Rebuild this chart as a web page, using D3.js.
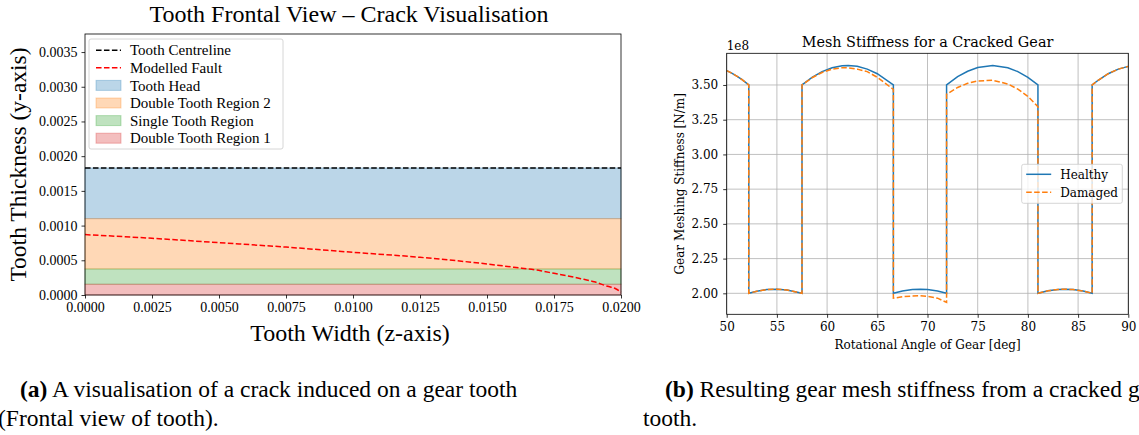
<!DOCTYPE html>
<html>
<head>
<meta charset="utf-8">
<script src="https://cdn.jsdelivr.net/npm/d3@7"></script>
<style>
  body { margin: 0; background: #fff; }
  svg { display: block; }
</style>
</head>
<body>
<svg id="fig" width="1139" height="435"></svg>
<script>
// ---- left panel data (tooth frontal view) ----
var faultZ = [0, 0.0025, 0.005, 0.0075, 0.01, 0.0125, 0.015, 0.016, 0.017, 0.0175, 0.018, 0.0185, 0.019, 0.0195, 0.0198, 0.02];
var faultY = [0.00087, 0.000817, 0.000754, 0.00069, 0.000615, 0.000543, 0.000447, 0.0004, 0.00035, 0.000312, 0.000275, 0.000235, 0.00019, 0.000125, 0.00009, 0.00004];
var centreline = 0.00183;
var bandNames = ["Tooth Head", "Double Tooth Region 2", "Single Tooth Region", "Double Tooth Region 1"];
var bandLow = [0.00110, 0.000375, 0.000155, 0];
var bandHigh = [0.00183, 0.00110, 0.000375, 0.000155];
var bandColors = ["#1f77b4", "#ff7f0e", "#2ca02c", "#d62728"];
var leftXTicks = [0, 0.0025, 0.005, 0.0075, 0.01, 0.0125, 0.015, 0.0175, 0.02];
var leftYTicks = [0, 0.0005, 0.001, 0.0015, 0.002, 0.0025, 0.003, 0.0035];

// ---- right panel data (mesh stiffness, x1e8 N/m) ----
var angle = [50, 50.5, 51, 51.5, 52.2,
  52.2, 53, 54, 55, 56, 57.5,
  57.5, 58.5, 59.5, 60.5, 61.5, 62.1, 63, 64, 65, 66.6,
  66.6, 67.5, 68.5, 69.3, 70, 71, 71.9,
  71.9, 73, 74, 75, 76.5, 78, 79, 80, 81,
  81, 82, 83, 83.7, 84.5, 85.5, 86.4,
  86.4, 87, 88, 89, 90];
var healthy = [3.603, 3.585, 3.564, 3.540, 3.500,
  2.000, 2.015, 2.027, 2.030, 2.024, 2.000,
  3.500, 3.555, 3.596, 3.624, 3.638, 3.640, 3.634, 3.614, 3.581, 3.500,
  2.000, 2.017, 2.028, 2.030, 2.028, 2.017, 2.000,
  3.500, 3.560, 3.599, 3.626, 3.640, 3.624, 3.596, 3.555, 3.500,
  2.000, 2.018, 2.028, 2.030, 2.027, 2.017, 2.000,
  3.500, 3.534, 3.581, 3.614, 3.634];
var damaged = [3.603, 3.585, 3.564, 3.540, 3.500,
  2.000, 2.015, 2.027, 2.030, 2.024, 2.000,
  3.500, 3.552, 3.590, 3.614, 3.624, 3.623, 3.614, 3.596, 3.555, 3.468,
  1.965, 1.975, 1.981, 1.982, 1.978, 1.965, 1.935,
  3.433, 3.482, 3.512, 3.529, 3.534, 3.507, 3.470, 3.418, 3.344,
  2.000, 2.018, 2.028, 2.030, 2.027, 2.017, 2.000,
  3.500, 3.534, 3.581, 3.614, 3.634];
var rightXTicks = [50, 55, 60, 65, 70, 75, 80, 85, 90];
var rightYTicks = [2.00, 2.25, 2.50, 2.75, 3.00, 3.25, 3.50];

var fig = d3.select("#fig");
var serifL = "'Liberation Serif', 'Times New Roman', serif";
var serifR = "'DejaVu Serif', serif";
var dash = "5.55,2.4";

// ================= left panel =================
var L = { x0: 85, x1: 621, y0: 34, y1: 295 };
var xL = d3.scaleLinear().domain([0, 0.02]).range([L.x0, L.x1]);
var yL = d3.scaleLinear().domain([0, 0.00376]).range([L.y1, L.y0]);
var gL = fig.append("g");

gL.selectAll("rect.band")
  .data(bandNames)
  .enter().append("rect")
  .attr("class", "band")
  .attr("x", xL(0))
  .attr("width", xL(0.02) - xL(0))
  .attr("y", function(d, i) { return yL(bandHigh[i]); })
  .attr("height", function(d, i) { return yL(bandLow[i]) - yL(bandHigh[i]); })
  .attr("fill", function(d, i) { return bandColors[i]; })
  .attr("fill-opacity", 0.3)
  .attr("stroke", function(d, i) { return bandColors[i]; })
  .attr("stroke-opacity", 0.3)
  .attr("stroke-width", 1);

gL.append("line")
  .attr("x1", xL(0)).attr("x2", xL(0.02))
  .attr("y1", yL(centreline)).attr("y2", yL(centreline))
  .attr("stroke", "#000").attr("stroke-width", 1.5)
  .attr("stroke-dasharray", dash);

var faultLine = d3.line()
  .x(function(d, i) { return xL(faultZ[i]); })
  .y(function(d) { return yL(d); })
  .curve(d3.curveMonotoneX);
gL.append("path")
  .attr("d", faultLine(faultY))
  .attr("fill", "none").attr("stroke", "#ff0000").attr("stroke-width", 1.5)
  .attr("stroke-dasharray", dash);

// axes
var axL_x = gL.append("g").attr("transform", "translate(0," + L.y1 + ")")
  .call(d3.axisBottom(xL).tickValues(leftXTicks).tickFormat(d3.format(".4f")).tickSize(3.5).tickPadding(4));
var axL_y = gL.append("g").attr("transform", "translate(" + L.x0 + ",0)")
  .call(d3.axisLeft(yL).tickValues(leftYTicks).tickFormat(d3.format(".4f")).tickSize(3.5).tickPadding(4));
[axL_x, axL_y].forEach(function(a) {
  a.select(".domain").remove();
  a.selectAll("line").attr("stroke", "#000").attr("stroke-width", 0.8);
  a.selectAll("text").attr("fill", "#000").style("font-family", serifL).style("font-size", "14px");
});
gL.append("rect")
  .attr("x", L.x0).attr("y", L.y0)
  .attr("width", L.x1 - L.x0).attr("height", L.y1 - L.y0)
  .attr("fill", "none").attr("stroke", "#000").attr("stroke-width", 0.8);

gL.append("text")
  .attr("x", 349).attr("y", 22)
  .attr("text-anchor", "middle")
  .style("font-family", serifL).style("font-size", "24px")
  .text("Tooth Frontal View \u2013 Crack Visualisation");
gL.append("text")
  .attr("x", 350).attr("y", 341)
  .attr("text-anchor", "middle")
  .style("font-family", serifL).style("font-size", "24px")
  .text("Tooth Width (z-axis)");
gL.append("text")
  .attr("transform", "translate(26," + (L.y0 + L.y1) / 2 + ") rotate(-90)")
  .attr("text-anchor", "middle")
  .style("font-family", serifL).style("font-size", "23.5px")
  .text("Tooth Thickness (y-axis)");

// legend
var legL = gL.append("g").attr("transform", "translate(89,39)");
legL.append("rect")
  .attr("width", 194).attr("height", 110).attr("rx", 2)
  .attr("fill", "#fff").attr("fill-opacity", 0.8)
  .attr("stroke", "#ccc").attr("stroke-width", 0.8);
var legItems = [
  { label: "Tooth Centreline", kind: "line", color: "#000" },
  { label: "Modelled Fault", kind: "line", color: "#ff0000" }
];
bandNames.forEach(function(n, i) { legItems.push({ label: n, kind: "patch", color: bandColors[i] }); });
var li = legL.selectAll("g.item").data(legItems).enter().append("g")
  .attr("class", "item")
  .attr("transform", function(d, i) { return "translate(0," + (11.2 + i * 17.6) + ")"; });
li.filter(function(d) { return d.kind === "line"; }).append("line")
  .attr("x1", 7).attr("x2", 32).attr("y1", 0).attr("y2", 0)
  .attr("stroke", function(d) { return d.color; }).attr("stroke-width", 1.5)
  .attr("stroke-dasharray", dash);
li.filter(function(d) { return d.kind === "patch"; }).append("rect")
  .attr("x", 7).attr("y", -5).attr("width", 25).attr("height", 10)
  .attr("fill", function(d) { return d.color; }).attr("fill-opacity", 0.3)
  .attr("stroke", function(d) { return d.color; }).attr("stroke-opacity", 0.3);
li.append("text")
  .attr("x", 41).attr("y", 0).attr("dy", "0.35em")
  .style("font-family", serifL).style("font-size", "15px")
  .text(function(d) { return d.label; });

// ================= right panel =================
var R = { x0: 726.7, x1: 1128.3, y0: 53.3, y1: 314.3 };
var xR = d3.scaleLinear().domain([50, 90]).range([R.x0, R.x1]);
var yR = d3.scaleLinear().domain([1.849, 3.728]).range([R.y1, R.y0]);
var gR = fig.append("g");

fig.append("defs").append("clipPath").attr("id", "clipR")
  .append("rect").attr("x", R.x0).attr("y", R.y0)
  .attr("width", R.x1 - R.x0).attr("height", R.y1 - R.y0);

gR.selectAll("line.gx").data(rightXTicks).enter().append("line")
  .attr("x1", function(d) { return xR(d); }).attr("x2", function(d) { return xR(d); })
  .attr("y1", R.y0).attr("y2", R.y1)
  .attr("stroke", "#b0b0b0").attr("stroke-width", 0.8);
gR.selectAll("line.gy").data(rightYTicks).enter().append("line")
  .attr("y1", function(d) { return yR(d); }).attr("y2", function(d) { return yR(d); })
  .attr("x1", R.x0).attr("x2", R.x1)
  .attr("stroke", "#b0b0b0").attr("stroke-width", 0.8);

var stiffLine = d3.line()
  .x(function(d, i) { return xR(angle[i]); })
  .y(function(d) { return yR(d); });
var plot = gR.append("g").attr("clip-path", "url(#clipR)");
plot.append("path").attr("d", stiffLine(healthy))
  .attr("fill", "none").attr("stroke", "#1f77b4").attr("stroke-width", 1.5);
plot.append("path").attr("d", stiffLine(damaged))
  .attr("fill", "none").attr("stroke", "#ff7f0e").attr("stroke-width", 1.5)
  .attr("stroke-dasharray", dash);

var axR_x = gR.append("g").attr("transform", "translate(0," + R.y1 + ")")
  .call(d3.axisBottom(xR).tickValues(rightXTicks).tickFormat(d3.format("d")).tickSize(3.5).tickPadding(5));
var axR_y = gR.append("g").attr("transform", "translate(" + R.x0 + ",0)")
  .call(d3.axisLeft(yR).tickValues(rightYTicks).tickFormat(d3.format(".2f")).tickSize(3.5).tickPadding(5));
[axR_x, axR_y].forEach(function(a) {
  a.select(".domain").remove();
  a.selectAll("line").attr("stroke", "#000").attr("stroke-width", 0.8);
  a.selectAll("text").attr("fill", "#000").style("font-family", serifR).style("font-size", "12px");
});
gR.append("rect")
  .attr("x", R.x0).attr("y", R.y0)
  .attr("width", R.x1 - R.x0).attr("height", R.y1 - R.y0)
  .attr("fill", "none").attr("stroke", "#000").attr("stroke-width", 0.8);

gR.append("text")
  .attr("x", R.x0).attr("y", 50)
  .style("font-family", serifR).style("font-size", "12px")
  .text("1e8");
gR.append("text")
  .attr("x", (R.x0 + R.x1) / 2).attr("y", 47)
  .attr("text-anchor", "middle")
  .style("font-family", serifR).style("font-size", "14.4px")
  .text("Mesh Stiffness for a Cracked Gear");
gR.append("text")
  .attr("x", (R.x0 + R.x1) / 2).attr("y", 349)
  .attr("text-anchor", "middle")
  .style("font-family", serifR).style("font-size", "12px")
  .text("Rotational Angle of Gear [deg]");
gR.append("text")
  .attr("transform", "translate(684," + (R.y0 + R.y1) / 2 + ") rotate(-90)")
  .attr("text-anchor", "middle")
  .style("font-family", serifR).style("font-size", "12px")
  .text("Gear Meshing Stiffness [N/m]");

var legR = gR.append("g").attr("transform", "translate(1021.7,164.3)");
legR.append("rect")
  .attr("width", 100.6).attr("height", 39).attr("rx", 2)
  .attr("fill", "#fff").attr("fill-opacity", 0.8)
  .attr("stroke", "#ccc").attr("stroke-width", 0.8);
var legRItems = [
  { label: "Healthy", color: "#1f77b4", dashed: false },
  { label: "Damaged", color: "#ff7f0e", dashed: true }
];
var ri = legR.selectAll("g.item").data(legRItems).enter().append("g")
  .attr("transform", function(d, i) { return "translate(0," + (10 + i * 18) + ")"; });
ri.append("line")
  .attr("x1", 4.5).attr("x2", 29.5).attr("y1", 0).attr("y2", 0)
  .attr("stroke", function(d) { return d.color; }).attr("stroke-width", 1.5)
  .attr("stroke-dasharray", function(d) { return d.dashed ? dash : null; });
ri.append("text")
  .attr("x", 38.5).attr("y", 0).attr("dy", "0.35em")
  .style("font-family", serifR).style("font-size", "12px")
  .text(function(d) { return d.label; });

// ================= captions =================
var cap = fig.append("g").style("font-family", serifL).style("font-size", "23.5px");
var c1 = cap.append("text").attr("x", 20).attr("y", 397);
c1.append("tspan").style("font-weight", "bold").text("(a)");
c1.append("tspan").text(" A visualisation of a crack induced on a gear tooth");
cap.append("text").attr("x", -2).attr("y", 426).text("(Frontal view of tooth).");
var c2 = cap.append("text").attr("x", 665).attr("y", 397);
c2.append("tspan").style("font-weight", "bold").text("(b)");
c2.append("tspan").text(" Resulting gear mesh stiffness from a cracked gear");
cap.append("text").attr("x", 643).attr("y", 426).text("tooth.");
</script>
</body>
</html>
